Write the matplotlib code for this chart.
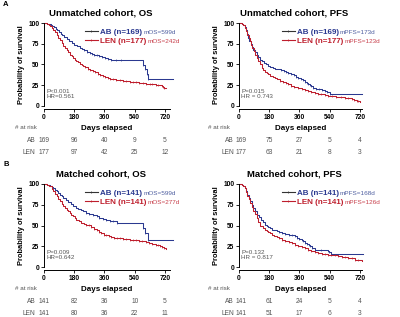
import matplotlib
matplotlib.use('Agg')
import matplotlib.pyplot as plt
import matplotlib.transforms as mtransforms

plt.rcParams['font.family'] = ['Liberation Sans', 'DejaVu Sans']

AB_C = '#2b3990'
LEN_C = '#be1e2d'
AB_LIGHT = '#4f5fa0'
LEN_LIGHT = '#c8414d'
GRAY = '#555555'

xticks = [0, 180, 360, 540, 720]
yticks = [0, 25, 50, 75, 100]

# A, overall survival
ab_os_t = [0, 10, 20, 30, 40, 50, 60, 70, 80, 90, 100, 110, 120, 135, 150, 165, 180, 195, 212, 225, 240, 255,
           271, 285, 300, 315, 330, 348, 365, 383, 400, 430, 458, 588, 600, 612, 620, 765]
ab_os_s = [100, 99.5, 99, 98.5, 98, 96.5, 95, 93, 91, 89, 87, 85, 83, 80.5, 78.5, 76, 74, 72, 70, 68.5, 67, 65.5,
           64, 63, 62, 61, 60, 59, 58, 57, 56, 55.5, 55, 49, 44, 38, 33, 33]
len_os_t = [0, 10, 20, 28, 35, 45, 55, 65, 75, 85, 95, 105, 114, 125, 135, 145, 153, 165, 175, 185, 193, 205,
            215, 225, 232, 245, 260, 275, 291, 305, 320, 335, 350, 365, 380, 395, 409, 430, 450, 470, 488, 510,
            530, 550, 567, 590, 610, 630, 645, 665, 680, 700, 707, 714, 725]
len_os_s = [100, 99.5, 99, 97.5, 96, 94, 92, 89, 86, 82.5, 79, 75.5, 72, 69.5, 67, 64.5, 62, 60, 58, 56, 54, 52.5,
            51, 49.5, 48, 46.5, 45, 43.5, 42, 40.5, 39, 37.5, 36, 35, 34, 33, 32, 31.5, 31, 30.5, 30, 29.5,
            29, 28.5, 28, 27.5, 27, 26.5, 26, 25.5, 25, 24, 23, 22, 22]

# A, progression free survival
ab_pfs_t = [0, 10, 20, 26, 33, 40, 47, 55, 62, 70, 78, 85, 95, 105, 115, 125, 138, 150, 162, 174, 187, 200,
            217, 234, 250, 265, 280, 293, 310, 325, 340, 353, 367, 380, 392, 403, 412, 420, 430, 442, 458, 475,
            495, 512, 526, 540, 730]
ab_pfs_s = [100, 99.5, 99, 98, 95, 91, 86.5, 82, 78.5, 75, 71.5, 68, 65, 62, 59, 56, 54, 52, 50, 48, 47, 46,
            45, 44, 43, 42, 41, 40, 38.5, 37, 35.5, 34, 32.5, 31, 29.5, 28, 26.5, 25, 23.5, 22, 21, 20,
            19, 18, 16.5, 15, 15]
len_pfs_t = [0, 10, 15, 25, 36, 43, 50, 58, 65, 72, 80, 88, 95, 105, 115, 125, 135, 145, 155, 165, 174, 187,
             200, 212, 224, 242, 260, 277, 293, 312, 330, 350, 373, 392, 410, 430, 452, 470, 490, 510, 531, 555,
             580, 605, 631, 650, 670, 685, 700, 710, 720]
len_pfs_s = [100, 99.5, 99, 97, 94, 90, 86, 82, 78, 74, 70, 66, 62, 58, 54, 50, 46, 43.5, 41, 39.5, 38, 36.5,
             35, 33.5, 32, 30.5, 29, 27.5, 26, 24.5, 23, 22, 21, 19.5, 18, 17, 16, 15, 14, 13, 12, 11.5,
             11, 10.5, 10, 9.5, 9, 7.5, 6, 5.5, 5]

# B, overall survival (matched)
ab_os2_t = [0, 10, 20, 28, 35, 45, 55, 65, 75, 85, 95, 105, 115, 130, 145, 160, 174, 190, 205, 220, 234, 252,
            270, 290, 313, 330, 350, 372, 393, 412, 432, 588, 600, 622, 765]
ab_os2_s = [100, 99.5, 99, 98.5, 98, 96.5, 95, 93, 91, 89, 87, 85, 83, 80.5, 78, 75.5, 73, 71.5, 70, 68.5, 67, 65.5,
            64, 62.5, 61, 59.5, 58, 57, 56, 55, 53.5, 47, 41, 32, 32]
len_os2_t = [0, 10, 20, 28, 35, 45, 55, 65, 75, 85, 95, 105, 115, 125, 135, 145, 153, 163, 173, 183, 193, 207,
             220, 236, 252, 266, 280, 297, 313, 327, 340, 356, 372, 386, 400, 416, 432, 450, 470, 490, 511, 530,
             550, 568, 586, 605, 625, 645, 665, 678, 690, 702, 714, 725]
len_os2_s = [100, 99.5, 99, 98, 97, 94, 91, 88, 85, 82, 79, 76, 73, 71, 69, 67, 65, 63, 61, 59, 57, 55,
             53.5, 52, 51, 50.5, 48, 46, 44, 42, 40.5, 39, 38, 37, 36, 35.5, 35, 34.5, 34, 33.5, 33, 32.5,
             32, 31.5, 31, 30, 29, 28, 27, 26, 25, 24, 23, 22]

# B, progression free survival (matched)
ab_pfs2_t = [0, 10, 15, 25, 36, 43, 50, 58, 65, 75, 85, 95, 105, 118, 130, 143, 155, 165, 175, 185, 195, 210,
             225, 240, 254, 275, 295, 315, 333, 347, 360, 372, 383, 395, 405, 415, 423, 437, 452, 490, 531, 538,
             545, 735]
ab_pfs2_s = [100, 99.5, 99, 97.5, 95, 91, 87, 83, 79, 75, 71, 67, 63, 60, 57, 54, 51, 49.5, 48, 46.5, 45, 44,
             43, 42, 41, 40, 39, 38, 37, 35.5, 34, 32.5, 31, 29.5, 28, 26.5, 25, 23, 21, 20, 19, 17.5,
             16, 16]
len_pfs2_t = [0, 10, 15, 25, 36, 43, 50, 58, 65, 75, 85, 95, 105, 115, 126, 140, 155, 165, 175, 185, 195, 210,
              225, 240, 254, 275, 295, 315, 333, 352, 372, 392, 412, 430, 450, 470, 492, 511, 531, 550, 571, 590,
              610, 630, 651, 670, 690, 710, 730]
len_pfs2_s = [100, 99.5, 99, 97.5, 95, 90.5, 86, 81.5, 77, 72.5, 68, 63.5, 59, 54.5, 50, 47.5, 45, 43.5, 42, 40.5, 39, 37.5,
              36, 34.5, 33, 31.5, 30, 28.5, 27, 25.5, 24, 22.5, 21, 19.5, 18, 17, 16, 15.5, 15, 14.5, 14, 13,
              12, 11.5, 11, 10.5, 9, 8, 7]

titles = ['Unmatched cohort, OS', 'Unmatched cohort, PFS', 'Matched cohort, OS', 'Matched cohort, PFS']
ab_labels = ['AB (n=169)', 'AB (n=169)', 'AB (n=141)', 'AB (n=141)']
len_labels = ['LEN (n=177)', 'LEN (n=177)', 'LEN (n=141)', 'LEN (n=141)']
ab_medians = ['mOS=599d', 'mPFS=173d', 'mOS=599d', 'mPFS=168d']
len_medians = ['mOS=242d', 'mPFS=123d', 'mOS=277d', 'mPFS=126d']
stats = ['P<0.001\nHR=0.561', 'P=0.015\nHR = 0.743', 'P=0.009\nHR=0.642', 'P=0.132\nHR = 0.817']
risk_ab = [[169, 96, 40, 9, 5], [169, 75, 27, 5, 4], [141, 82, 36, 10, 5], [141, 61, 24, 5, 4]]
risk_len = [[177, 97, 42, 25, 12], [177, 63, 21, 8, 3], [141, 80, 36, 22, 11], [141, 51, 17, 6, 3]]

curves = [(ab_os_t, ab_os_s, len_os_t, len_os_s),
          (ab_pfs_t, ab_pfs_s, len_pfs_t, len_pfs_s),
          (ab_os2_t, ab_os2_s, len_os2_t, len_os2_s),
          (ab_pfs2_t, ab_pfs2_s, len_pfs2_t, len_pfs2_s)]

W, H = 400, 317
fig = plt.figure(figsize=(W / 100, H / 100), dpi=100)

# axes boxes in pixels: left, right, top(100%), bottom(0%)
boxes = [(44, 170, 23, 106), (239, 362, 23, 106), (44, 170, 184, 267), (239, 362, 184, 267)]
xmaxes = [750, 732, 750, 732]
legx = [0.444, 0.469, 0.444, 0.469]
atrisk_px = [15, 208, 15, 208]
rowlab_x = [-52, -30, -52, -30]
first_col_x = [0, 14, 0, 14]

fig.text(3 / W, 1 - 4 / H, 'A', fontsize=5.5, fontweight='bold', va='center')
fig.text(3 / W, 1 - 165 / H, 'B', fontsize=5.5, fontweight='bold', va='center')


def censor_marks(ax, t, s, col):
    ct = [a for a in t[1:-1] if a >= 240]
    cs = [b for a, b in zip(t[1:-1], s[1:-1]) if a >= 240]
    ax.plot(ct, cs, ls='none', marker='|', ms=1.8, mew=0.45, color=col, clip_on=False)


pending = []
for i in range(4):
    l, r, t, b = boxes[i]
    ax = fig.add_axes([l / W, 1 - b / H, (r - l) / W, (b - t) / H])
    ab_t, ab_s, len_t, len_s = curves[i]
    ax.plot(ab_t, ab_s, drawstyle='steps-post', color=AB_C, lw=0.75, clip_on=False)
    censor_marks(ax, ab_t, ab_s, AB_C)
    ax.plot(len_t, len_s, drawstyle='steps-post', color=LEN_C, lw=0.75, clip_on=False)
    censor_marks(ax, len_t, len_s, LEN_C)

    ax.set_xlim(0, xmaxes[i])
    ax.set_ylim(0, 100)
    ax.spines['top'].set_visible(False)
    ax.spines['right'].set_visible(False)
    ax.spines['bottom'].set_position(('outward', 2.5))
    for s in ('left', 'bottom'):
        ax.spines[s].set_linewidth(0.7)
    ax.set_xticks(xticks)
    ax.set_yticks(yticks)
    ax.tick_params(length=2.2, width=0.6, pad=1.2, labelsize=4.8)
    for lab in ax.get_xticklabels() + ax.get_yticklabels():
        lab.set_fontweight('bold')
    ax.set_ylabel('Probability of survival', fontsize=5.4, fontweight='bold', labelpad=2)
    ax.set_xlabel('Days elapsed', fontsize=5.8, fontweight='bold', labelpad=2.5)
    ax.text(0.45, 1.12, titles[i], transform=ax.transAxes, ha='center', va='center',
            fontsize=6.8, fontweight='bold')

    # legend entries
    lx = legx[i]
    for y, lab, med, col, lcol, mcol in [(0.873, ab_labels[i], ab_medians[i], AB_C, '#333333', AB_LIGHT),
                                         (0.760, len_labels[i], len_medians[i], LEN_C, LEN_C, LEN_LIGHT)]:
        ax.plot([lx - 0.12, lx - 0.015], [y + 0.03, y + 0.03], transform=ax.transAxes,
                color=lcol, lw=0.8, clip_on=False)
        ax.plot([lx - 0.0675], [y + 0.03], transform=ax.transAxes, marker='|', ms=2.0,
                mew=0.5, color=lcol, clip_on=False)
        txt = ax.text(lx, y, lab, transform=ax.transAxes, fontsize=5.8, fontweight='bold',
                      color=col, va='baseline', ha='left')
        pending.append((ax, txt, y, med, mcol))

    ax.text(0.02, 0.148, stats[i], transform=ax.transAxes, fontsize=4.5, color=GRAY,
            va='center', ha='left', linespacing=1.0)

    # number at risk table
    trans = mtransforms.blended_transform_factory(ax.transData, ax.transAxes)
    xscale = 720 / 121.0
    ax.text(-(l - atrisk_px[i]) * xscale, -0.265, '# at risk', transform=trans, fontsize=4.5,
            color=GRAY, va='center', ha='left')
    col_x = [first_col_x[i]] + xticks[1:]
    for y, name, vals in [(-0.41, 'AB', risk_ab[i]), (-0.56, 'LEN', risk_len[i])]:
        ax.text(rowlab_x[i], y, name, transform=trans, fontsize=4.8, color=GRAY, va='center', ha='right')
        for xv, v in zip(col_x, vals):
            ax.text(xv, y, str(v), transform=trans, fontsize=4.8, color=GRAY,
                    va='center', ha='center')

fig.canvas.draw()
for ax, txt, y, med, mcol in pending:
    bb = txt.get_window_extent()
    x1 = ax.transAxes.inverted().transform((bb.x1, bb.y0))[0]
    ax.text(x1 + 0.01, y, med, transform=ax.transAxes, fontsize=4.6, color=mcol,
            va='baseline', ha='left')

fig.savefig('out.png', dpi=100)
